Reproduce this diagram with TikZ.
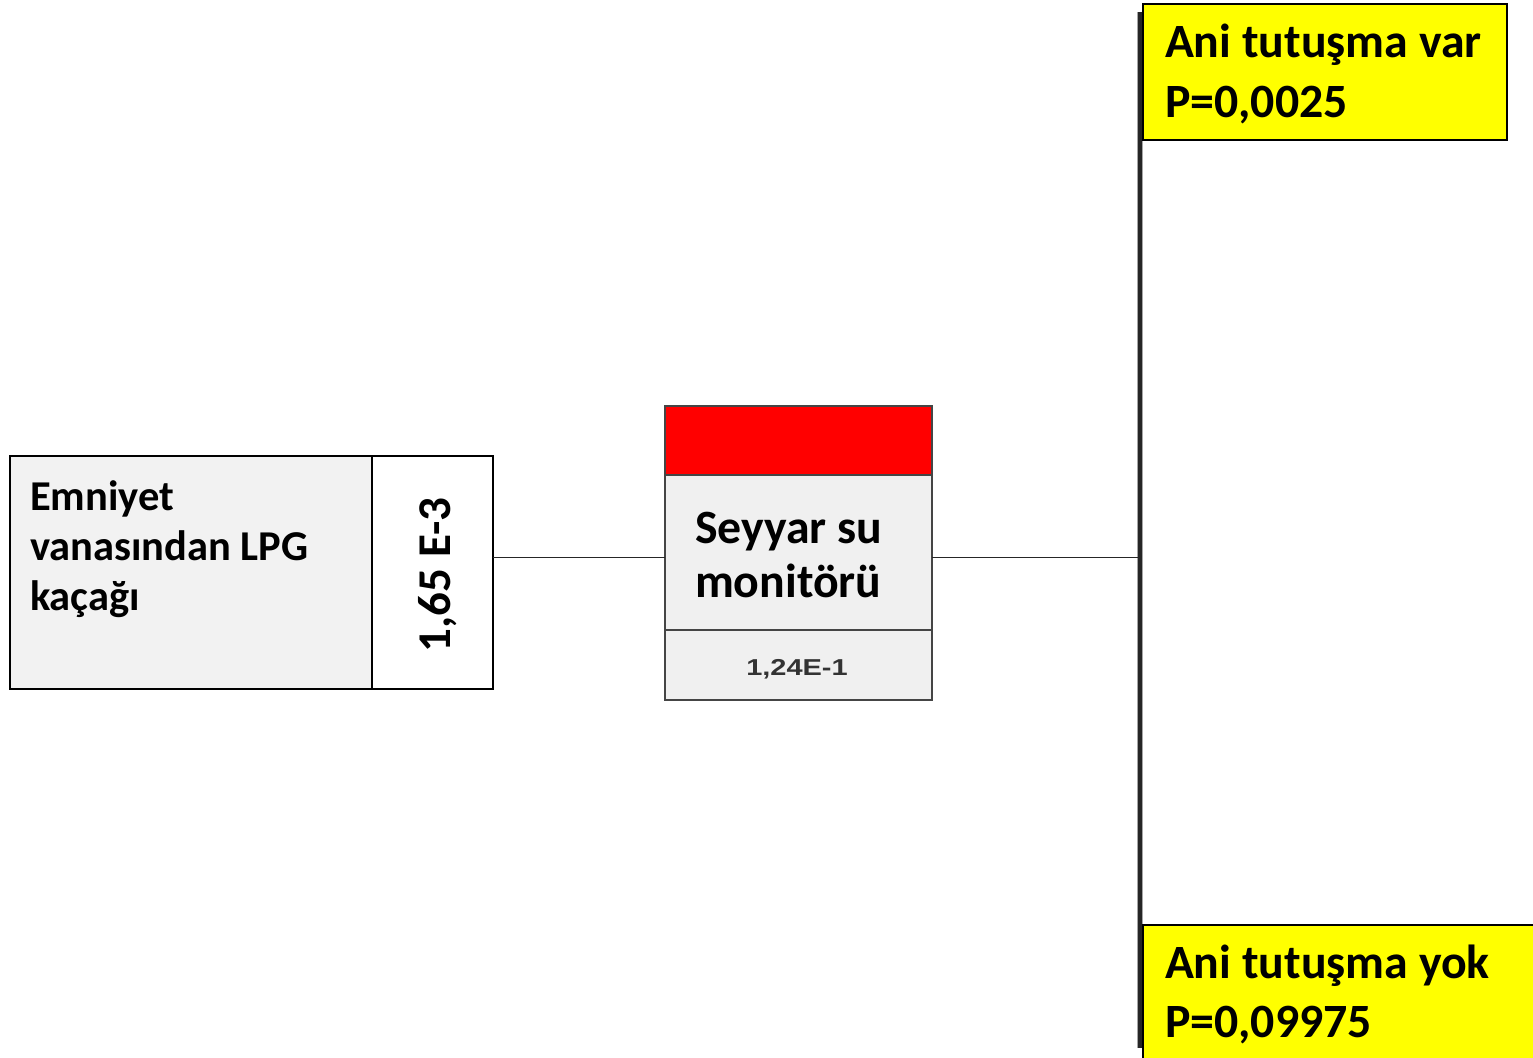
\documentclass[tikz,border=0pt]{standalone}
\usepackage{fontspec}
\setmainfont{Carlito}
\newfontfamily\numfont{Liberation Sans}
\definecolor{boxgray}{HTML}{F2F2F2}
\definecolor{midgray}{HTML}{F0F0F0}
\definecolor{edgegray}{HTML}{454545}
\definecolor{evyellow}{HTML}{FFFF00}
\begin{document}
\begin{tikzpicture}[x=1pt,y=-1pt,
  blackbox/.style={draw=black,line width=2pt,inner sep=0pt,outer sep=0pt,anchor=north west},
  greybox/.style={draw=edgegray,line width=2.8pt,inner sep=0pt,outer sep=0pt,anchor=north west},
  txt/.style={inner sep=0pt,outer sep=0pt,anchor=base west,font=\bfseries\fontsize{42.5}{50}\selectfont},
  bigtxt/.style={inner sep=0pt,outer sep=0pt,anchor=base west,font=\bfseries\fontsize{47.8}{55}\selectfont},
  conn/.style={draw=black!85,line width=1.8pt},
  vline/.style={draw=black!85,line width=3.5pt}]
\useasboundingbox (0,0) rectangle (1533,1057);
\fill[white] (0,0) rectangle (1533,1057);
% left box
\node[blackbox,fill=boxgray,minimum width=363pt,minimum height=233pt] (lefttext) at (10,455.5) {};
\node[blackbox,fill=white,minimum width=121pt,minimum height=233pt] (leftnum) at (372,455.5) {};
\node[txt] (l1) at (30,510) {Emniyet};
\node[txt] (l2) at (30,560) {vanasından LPG};
\node[txt] (l3) at (30,610) {kaçağı};
\node[inner sep=0pt,outer sep=0pt,anchor=base,rotate=90,font=\bfseries\fontsize{47}{50}\selectfont] (lnum) at (450,575) {1,65 E-3};
% middle box
\node[greybox,fill=red,minimum width=267pt,minimum height=69pt] (midred) at (665,406) {};
\node[greybox,fill=midgray,minimum width=267pt,minimum height=155pt] (midmain) at (665,475) {};
\node[greybox,fill=midgray,minimum width=267pt,minimum height=70pt] (midnum) at (665,630) {};
\node[bigtxt] (m1) at (695,543) {Seyyar su};
\node[bigtxt] (m2) at (695,597) {monitörü};
\node[inner sep=0pt,outer sep=0pt,anchor=base,text=black!80,font=\numfont\bfseries\fontsize{23}{26}\selectfont] (mnum) at (797,675) {\scalebox{1.26}[1]{1,24E-1}};
% branch line
\coordinate (jtop) at (1140,12);
\coordinate (jmid) at (1140,557.5);
\coordinate (jbot) at (1140,1048);
\draw[draw=black!35,line width=6pt] (jtop) -- (jbot);
\draw[vline] (jtop) -- (jbot);
\draw[conn] (jmid -| leftnum.east) -- (jmid -| midmain.west);
\draw[conn] (jmid -| midmain.east) -- (jmid);
% outcome boxes
\node[blackbox,fill=evyellow,minimum width=364pt,minimum height=135pt] (ovar) at (1143,4.5) {};
\node[bigtxt] (o1) at (1165,58) {Ani tutuşma var};
\node[bigtxt] (o2) at (1165,117) {P=0,0025};
\begin{scope}
\clip (0,0) rectangle (1533,1057);
\node[blackbox,fill=evyellow,minimum width=400pt,minimum height=150pt] (oyok) at (1143,924.5) {};
\end{scope}
\node[bigtxt] (o3) at (1165,978) {Ani tutuşma yok};
\node[bigtxt] (o4) at (1165,1037) {P=0,09975};
\end{tikzpicture}
\end{document}
